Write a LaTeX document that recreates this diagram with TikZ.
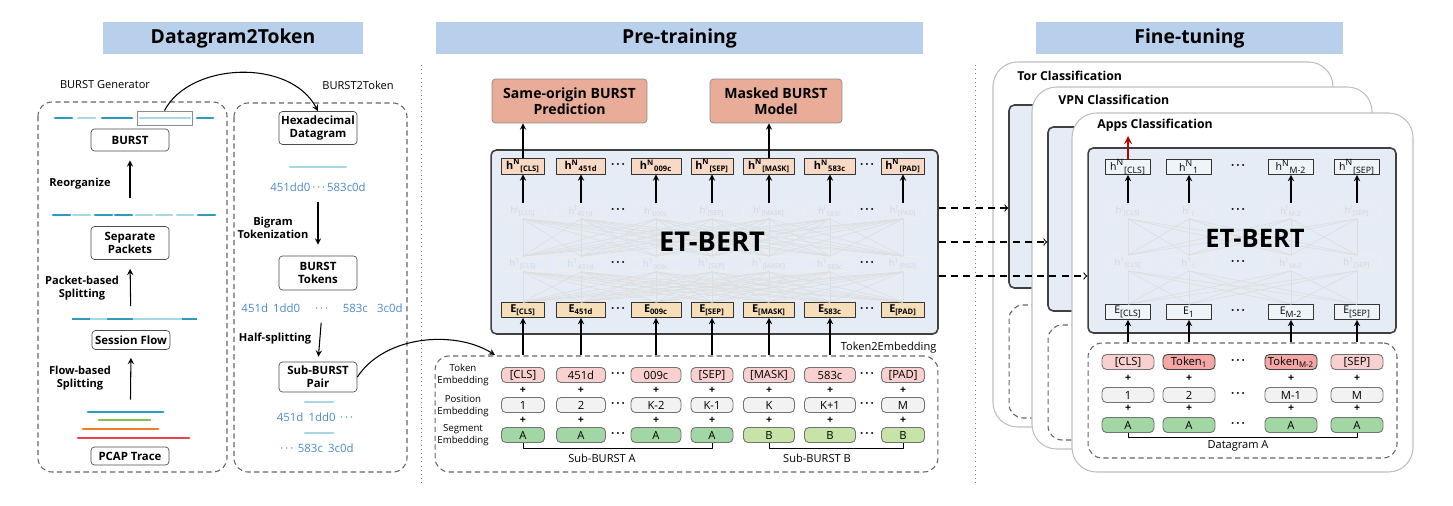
\documentclass[tikz,border=0pt]{standalone}
\usepackage{fontspec}
\setmainfont{Open Sans}
\usetikzlibrary{arrows}
\definecolor{titleblue}{RGB}{185,208,236}
\definecolor{tdark}{RGB}{46,155,186}
\definecolor{tlight}{RGB}{168,216,230}
\definecolor{lgreen}{RGB}{125,194,75}
\definecolor{lorange}{RGB}{240,125,34}
\definecolor{lred}{RGB}{232,67,77}
\definecolor{hexblue}{RGB}{74,138,208}
\definecolor{taskred}{RGB}{232,172,152}
\definecolor{bertbg}{RGB}{229,236,245}
\definecolor{hpeach}{RGB}{248,217,197}
\definecolor{etan}{RGB}{246,222,184}
\definecolor{tokpink}{RGB}{249,208,208}
\definecolor{tokdeep}{RGB}{243,167,167}
\definecolor{posgray}{RGB}{242,242,242}
\definecolor{greenA}{RGB}{163,214,165}
\definecolor{greenB}{RGB}{200,227,168}
\tikzset{
  head/.style={fill=titleblue, minimum height=0.64cm, inner sep=0pt, font=\bfseries\fontsize{11}{12}\selectfont},
  panel/.style={font=\fontsize{6.3}{7.5}\selectfont},
  dashbox/.style={draw=black!60, dash pattern=on 3pt off 2pt, rounded corners=8pt, line width=0.6pt},
  stepbox/.style={draw=black!70, rounded corners=2pt, fill=white, align=center, inner sep=0pt, minimum width=1.56cm, font=\bfseries\fontsize{6.5}{7.6}\selectfont},
  steplbl/.style={align=center, inner sep=0pt, font=\bfseries\fontsize{6.3}{7.4}\selectfont},
  hexnum/.style={text=hexblue, inner sep=0pt, font=\fontsize{6.5}{7.5}\selectfont},
  seg/.style={line width=1.7pt, line cap=round},
  flow/.style={->, line width=0.6pt},
  taskbox/.style={fill=taskred, draw=black!45, rounded corners=2pt, align=center, inner sep=0pt, minimum height=0.88cm, font=\bfseries\fontsize{8}{9.4}\selectfont},
  bertbox/.style={fill=bertbg, draw=black!75, line width=0.9pt, rounded corners=3pt, inner sep=0pt},
  hbox/.style={fill=hpeach, draw=black!80, line width=0.5pt, minimum height=0.32cm, inner sep=0pt, font=\bfseries\fontsize{6.2}{6.5}\selectfont},
  ebox/.style={hbox, fill=etan, minimum height=0.3cm},
  ghost/.style={draw=black!7, rounded corners=1pt, minimum height=0.3cm, inner sep=0pt, text=black!16, font=\fontsize{5.4}{6}\selectfont},
  meshline/.style={black!13, line width=0.35pt},
  tok/.style={rounded corners=2.5pt, draw=black!55, line width=0.5pt, minimum height=0.3cm, inner sep=0pt, font=\fontsize{6.4}{7}\selectfont},
  tokT/.style={tok, fill=tokpink},
  tokD/.style={tok, fill=tokdeep, draw=black!75},
  tokP/.style={tok, fill=posgray},
  segA/.style={tok, fill=greenA},
  segB/.style={tok, fill=greenB},
  plussign/.style={inner sep=0pt, font=\bfseries\fontsize{6}{6}\selectfont},
  dotsep/.style={inner sep=0pt, font=\bfseries\fontsize{6.5}{6}\selectfont},
  rowlbl/.style={align=center, inner sep=0pt, font=\fontsize{5.5}{6.6}\selectfont},
  card/.style={fill=white, draw=black!25, line width=0.6pt, rounded corners=14pt},
  cardlbl/.style={anchor=west, inner sep=0pt, font=\bfseries\fontsize{7}{8}\selectfont},
  abox/.style={draw=black!80, line width=0.5pt, minimum width=0.9cm, minimum height=0.3cm, inner sep=0pt, font=\fontsize{6}{6.5}\selectfont},
}
\begin{document}
\begin{tikzpicture}[x=0.02cm,y=-0.02cm,>=stealth,line join=round]
\useasboundingbox (0,0) rectangle (1453,506);
% headers and separators
\node[head, minimum width=5.2cm] (h1) at (233,38) {Datagram2Token};
\node[head, minimum width=9.74cm] (h2) at (679.5,38) {Pre-training};
\node[head, minimum width=6.14cm] (h3) at (1189.5,38) {Fine-tuning};
\draw[dotted, black!50] (421,65)--(421,485) (975,65)--(975,485);

% BURST generator
\node[panel] (gen) at (105,85) {BURST Generator};
\draw[dashbox] (38,102) rectangle (227,472);
\foreach \a/\b/\c in {55/72/tdark,78/95/tlight,102/132/tdark,140/190/tlight,197/213/tdark}
  \draw[seg,\c] (\a,118)--(\b,118);
\node[draw=black!45, line width=0.5pt, minimum width=1.1cm, minimum height=0.28cm, inner sep=0pt] (sel) at (164.5,118) {};
\foreach \a/\b/\c in {53/70/tdark,73/90/tlight,95/112/tdark,115/132/tdark,136/152/tlight,156/172/tlight,177/193/tlight,198/215/tdark}
  \draw[seg,\c] (\a,215)--(\b,215);
\foreach \a/\b/\c in {72/90/tdark,90/107/tlight,107/133/tdark,133/182/tlight,182/197/tdark}
  \draw[seg,\c,line cap=butt] (\a,319)--(\b,319);
\draw[seg,tdark] (88,412)--(163,412);
\draw[seg,lgreen] (99,420)--(150,420);
\draw[seg,lorange] (83,429)--(158,429);
\draw[seg,lred] (78,438)--(189,438);
\node[stepbox, minimum height=0.44cm] (burst) at (130,140) {BURST};
\node[stepbox, minimum height=0.66cm] (sep) at (130,243) {Separate\\Packets};
\node[stepbox, minimum height=0.38cm] (sess) at (131,340) {Session Flow};
\node[stepbox, minimum height=0.36cm] (pcap) at (130,456) {PCAP Trace};
\draw[flow, shorten <=0.56cm, shorten >=0.18cm] (sep.north) -- (burst.south);
\draw[flow, shorten <=0.48cm, shorten >=0.18cm] (sess.north) -- (sep.south);
\draw[flow, shorten <=0.94cm, shorten >=0.16cm] (pcap.north) -- (sess.south);
\node[steplbl] (reorg) at (80,184) {Reorganize};
\node[steplbl] (pkt) at (82,288) {Packet-based\\Splitting};
\node[steplbl] (flw) at (80,378) {Flow-based\\Splitting};

% BURST2Token
\node[panel] (b2t) at (358,85) {BURST2Token};
\draw[dashbox] (234,103) rectangle (407,472);
\node[stepbox, minimum height=0.66cm] (hex) at (318,128) {Hexadecimal\\Datagram};
\draw[seg,tlight] (290,167)--(346,167);
\node[hexnum] (hexstr) at (318,187) {451dd0\,·\,·\,·\,583c0d};
\node[stepbox, minimum height=0.68cm] (toks) at (318,273) {BURST\\Tokens};
\node[hexnum] (tokstr) at (322,308) {451d\hspace{0.45em}1dd0\hspace{1.3em}·\,·\,·\hspace{1.3em}583c\hspace{0.8em}3c0d};
\node[stepbox, minimum height=0.6cm] (pair) at (318,377) {Sub-BURST\\Pair};
\draw[seg,tlight] (305,402)--(333,402) (305,433)--(333,433);
\node[hexnum] (subA) at (315,417) {451d\hspace{0.45em}1dd0\hspace{0.4em}·\,·\,·};
\node[hexnum] (subB) at (317,448) {·\,·\,·\hspace{0.4em}583c\hspace{0.45em}3c0d};
\draw[flow, shorten <=0.2cm, shorten >=0.22cm] (hexstr.south) -- (toks.north);
\draw[flow, shorten <=0.2cm, shorten >=0.1cm] (tokstr.south) -- (pair.north);
\node[steplbl] (bigram) at (273,228) {Bigram\\Tokenization};
\node[steplbl] (half) at (275,339) {Half-splitting};
\draw[flow] (sel.north) .. controls (190,62) and (290,58) .. (hex.north);
\coordinate (t2ein) at (495,355);
\draw[flow] (pair.east) .. controls (385,335) and (455,330) .. (t2ein);

% pre-training
\node[taskbox, minimum width=3.1cm] (sop) at (569.5,101) {Same-origin BURST\\Prediction};
\node[taskbox, minimum width=2.64cm] (mbm) at (776,101) {Masked BURST\\Model};
\node[bertbox, minimum width=8.94cm, minimum height=3.68cm] (bert) at (714.5,242) {};
\foreach \i/\x/\w/\s in {1/523/0.86/[CLS],2/581/0.98/451d,3/656/1.0/009c,4/712/0.84/[SEP],5/769/1.02/[MASK],6/830/1.02/583c,7/903/0.86/[PAD]}{
  \node[hbox, minimum width=\w cm] (hn-\i) at (\x,166) {h\textsuperscript{N}\textsubscript{\s}};
  \node[ghost, minimum width=\w cm] (gl-\i) at (\x,211) {h\textsuperscript{l}\textsubscript{\s}};
  \node[ghost, minimum width=\w cm] (go-\i) at (\x,264) {h\textsuperscript{1}\textsubscript{\s}};
  \node[ebox, minimum width=\w cm] (e-\i) at (\x,310) {E\textsubscript{\s}};
  \draw[flow] (gl-\i.north) -- (hn-\i.south);
}
\foreach \i in {1,...,7}{\foreach \j in {1,...,7}{
  \draw[meshline] (gl-\i.south) -- (go-\j.north);
  \draw[meshline] (go-\i.south) -- (e-\j.north);
}}
\foreach \y in {166,211,264,310}{
  \node[dotsep] (dm-\y) at (618,\y) {·\,·\,·};
  \node[dotsep] (dn-\y) at (867,\y) {·\,·\,·};
}
\node[inner sep=0pt, font=\bfseries\fontsize{15.5}{17}\selectfont] (bertlbl) at (712,242) {ET-BERT};
\draw[flow] (hn-1.north) -- (hn-1.north |- sop.south);
\draw[flow] (hn-5.north) -- (hn-5.north |- mbm.south);

% token2embedding
\node[dashbox, minimum width=10.06cm, minimum height=2.32cm, inner sep=0pt] (t2e) at (686.5,414) {};
\node[panel, anchor=south east, inner sep=1pt] (t2elbl) at (t2e.north east) {Token2Embedding};
\node[rowlbl] (lt) at (463,375) {Token\\Embedding};
\node[rowlbl] (lp) at (463,406) {Position\\Embedding};
\node[rowlbl] (ls) at (463,435) {Segment\\Embedding};
\foreach \i/\x/\w/\t/\p/\g in {1/523/0.86/[CLS]/1/A,2/581/0.98/451d/2/A,3/656/1.0/009c/K-2/A,4/712/0.84/[SEP]/K-1/A,5/769/1.02/[MASK]/K/B,6/830/1.02/583c/K+1/B,7/903/0.86/[PAD]/M/B}{
  \node[tokT, minimum width=\w cm] (tk-\i) at (\x,375) {\t};
  \node[plussign] (pa-\i) at (\x,390) {+};
  \node[tokP, minimum width=\w cm] (ps-\i) at (\x,405) {\p};
  \node[plussign] (pb-\i) at (\x,420) {+};
  \node[seg\g, minimum width=\w cm] (sg-\i) at (\x,435) {\g};
}
\foreach \y in {375,405,435}{
  \node[dotsep] (tm-\y) at (618,\y) {·\,·\,·};
  \node[dotsep] (tn-\y) at (867,\y) {·\,·\,·};
}
\foreach \i in {1,...,6} \draw[flow] (e-\i.south |- t2e.north) -- (e-\i.south);
\draw[line width=0.5pt] (sg-1.south) -- ++(0,6) -| (sg-4.south);
\draw[line width=0.5pt] (sg-5.south) -- ++(0,6) -| (sg-7.south);
\node[panel] (sba) at (602,458) {Sub-BURST A};
\node[panel] (sbb) at (817,458) {Sub-BURST B};

% fine-tuning cards
\draw[card] (993,62) rectangle (1333,427);
\node[cardlbl] (torlbl) at (1017,76) {Tor Classification};
\node[bertbox, minimum width=3.82cm, minimum height=3.66cm] (torbert) at (1104.5,196.5) {};
\node[dashbox, minimum width=3.82cm, minimum height=2.26cm] (tordash) at (1104.5,361.5) {};
\draw[card] (1032,87) rectangle (1372,449);
\node[cardlbl] (vpnlbl) at (1058,100) {VPN Classification};
\node[bertbox, minimum width=3.84cm, minimum height=3.68cm] (vpnbert) at (1144,219) {};
\node[dashbox, minimum width=3.84cm, minimum height=2.3cm] (vpndash) at (1144,382.5) {};
\draw[card] (1072,113) rectangle (1413,472);
\node[cardlbl] (applbl) at (1097,125) {Apps Classification};
\node[bertbox, minimum width=6.16cm, minimum height=3.7cm] (appbert) at (1242,240.5) {};
\node[dashbox, minimum width=6.18cm, minimum height=2.3cm] (appdash) at (1242.5,400.5) {};
\foreach \i/\x/\s/\t/\f/\p in {1/1128/[CLS]/[CLS]/tokT/1,2/1189/1/Token\textsubscript{1}/tokD/2,3/1291/M-2/Token\textsubscript{M-2}/tokD/M-1,4/1357/[SEP]/[SEP]/tokT/M}{
  \node[abox, fill=white!40!bertbg] (fa-\i) at (\x,167) {h\textsuperscript{N}\textsubscript{\s}};
  \node[ghost, minimum width=0.9cm] (fl-\i) at (\x,211) {h\textsuperscript{l}\textsubscript{\s}};
  \node[ghost, minimum width=0.9cm] (fo-\i) at (\x,263) {h\textsuperscript{1}\textsubscript{\s}};
  \node[abox, fill=white!40!bertbg] (fe-\i) at (\x,312) {E\textsubscript{\s}};
  \draw[flow] (fl-\i.north) -- (fa-\i.south);
  \draw[flow] (fe-\i.south |- appdash.north) -- (fe-\i.south);
  \node[\f, minimum width=1.04cm] (ft-\i) at (\x,362) {\t};
  \node[plussign] (fpa-\i) at (\x,378) {+};
  \node[tokP, minimum width=1.04cm] (fp-\i) at (\x,395) {\p};
  \node[plussign] (fpb-\i) at (\x,408) {+};
  \node[segA, minimum width=1.04cm] (fs-\i) at (\x,425) {A};
}
\foreach \i in {1,...,4}{\foreach \j in {1,...,4}{
  \draw[meshline] (fl-\i.south) -- (fo-\j.north);
  \draw[meshline] (fo-\i.south) -- (fe-\j.north);
}}
\foreach \y in {167,211,263,312,362,395,425}
  \node[dotsep] (fd-\y) at (1238,\y) {·\,·\,·};
\node[inner sep=0pt, font=\bfseries\fontsize{14.5}{16}\selectfont] (appbertlbl) at (1255,238) {ET-BERT};
\coordinate (appout) at (1128,136);
\draw[->, line width=1pt, red!75!black] (fa-1.north) -- (appout);
\draw[line width=0.5pt] (fs-1.south) -- ++(0,5) -| (fs-4.south);
\node[panel] (dga) at (1238,446) {Datagram A};

% pre-training to fine-tuning
\coordinate (r1) at (0,208);
\coordinate (r2) at (0,242);
\coordinate (r3) at (0,276);
\draw[-to, dash pattern=on 4pt off 3pt, line width=0.6pt] (bert.east |- r1) -- (torbert.west |- r1);
\draw[-to, dash pattern=on 4pt off 3pt, line width=0.6pt] (bert.east |- r2) -- (vpnbert.west |- r2);
\draw[-to, dash pattern=on 4pt off 3pt, line width=0.6pt] (bert.east |- r3) -- (appbert.west |- r3);
\end{tikzpicture}
\end{document}
